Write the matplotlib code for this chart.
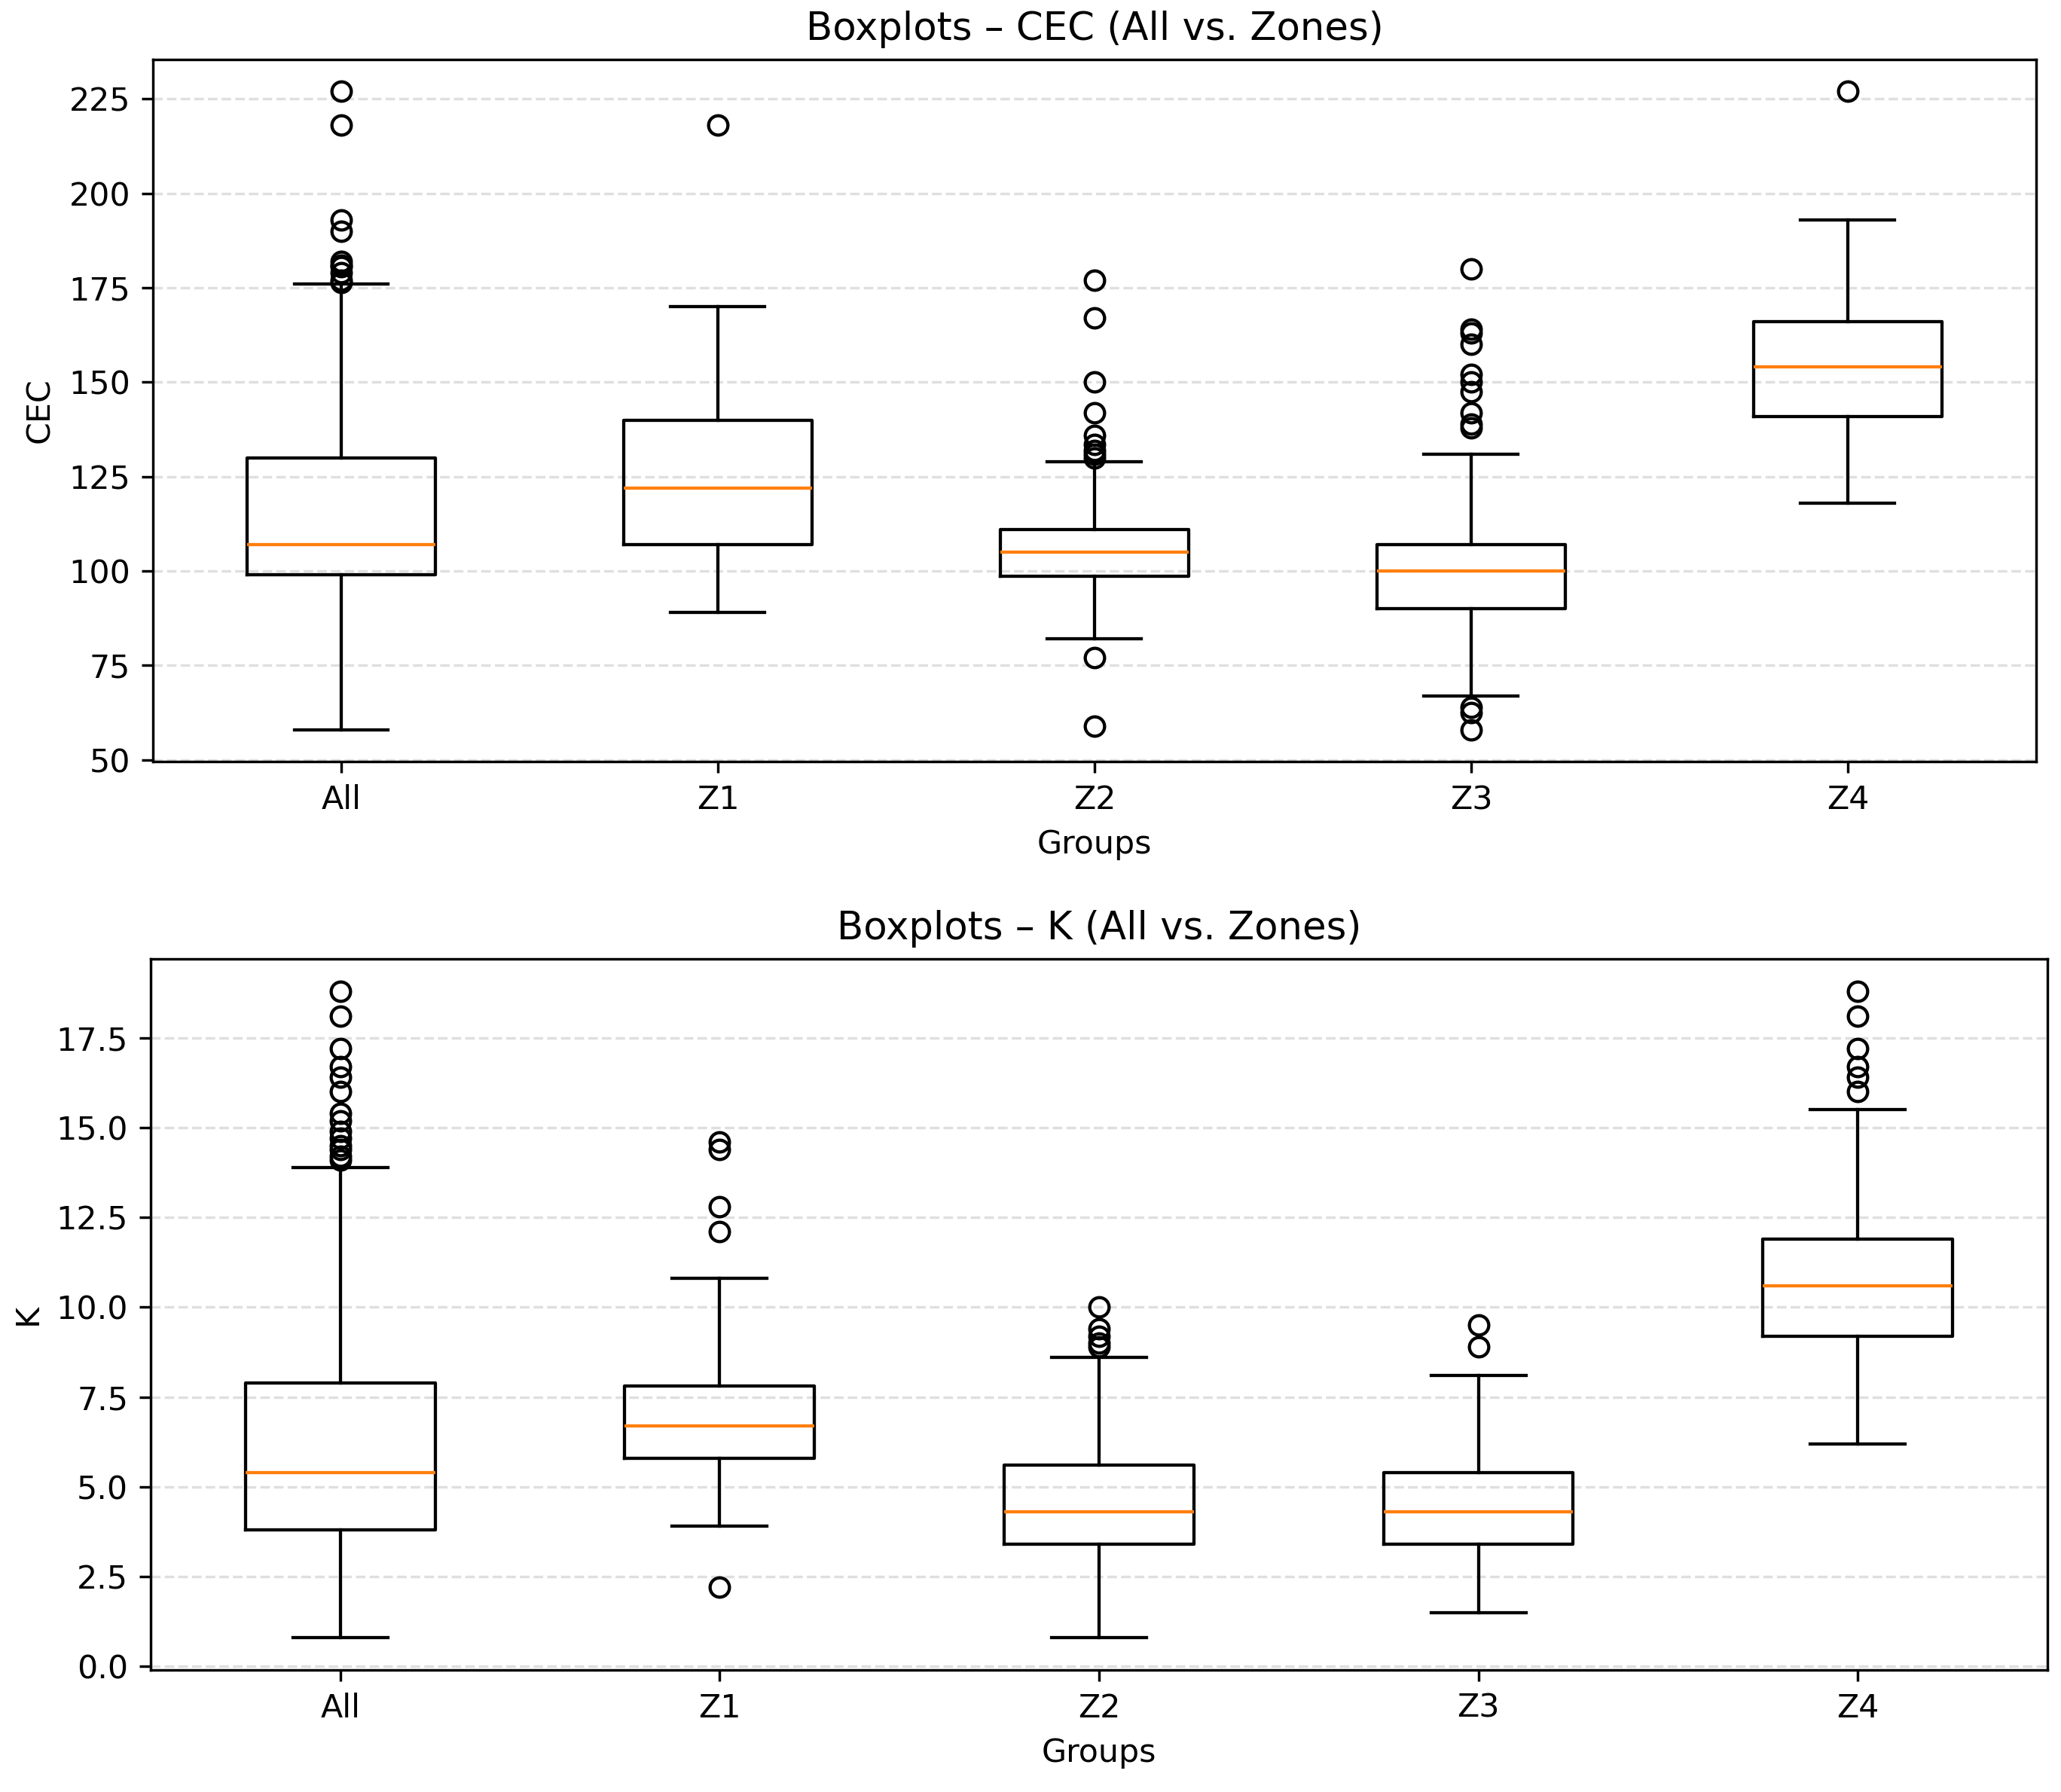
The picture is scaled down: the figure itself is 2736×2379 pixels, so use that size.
import matplotlib
matplotlib.use("Agg")
import matplotlib.pyplot as plt

# group labels
groups = ["All", "Z1", "Z2", "Z3", "Z4"]

# CEC box statistics
cec_med = [107, 122, 105, 100, 154]
cec_q1 = [99, 107, 98.7, 90, 141]
cec_q3 = [130, 140, 111, 107, 166]
cec_lo = [58, 89, 82, 67, 118]
cec_hi = [176, 170, 129, 131, 193]
cec_fliers = [
    [227, 218, 193, 190, 182, 181, 180.5, 179, 177, 176.5],
    [218],
    [177, 167, 150, 142, 136, 133.5, 132, 131, 130, 77, 59],
    [180, 164, 163, 160, 152, 150, 147.5, 142, 139, 138, 64, 62.5, 58],
    [227],
]

# K box statistics
k_med = [5.4, 6.7, 4.3, 4.3, 10.6]
k_q1 = [3.8, 5.8, 3.4, 3.4, 9.2]
k_q3 = [7.9, 7.8, 5.6, 5.4, 11.9]
k_lo = [0.8, 3.9, 0.8, 1.5, 6.2]
k_hi = [13.9, 10.8, 8.6, 8.1, 15.5]
k_fliers = [
    [18.8, 18.1, 17.2, 16.7, 16.4, 16.0, 15.4, 15.2, 14.9, 14.7, 14.5, 14.4, 14.2, 14.1],
    [14.6, 14.4, 12.8, 12.1, 2.2],
    [10.0, 9.4, 9.2, 9.0, 8.9],
    [9.5, 8.9],
    [18.8, 18.1, 17.2, 16.7, 16.4, 16.0],
]


def make_stats(labels, med, q1, q3, lo, hi, fliers):
    stats = []
    for i in range(len(labels)):
        stats.append({
            "label": labels[i],
            "med": med[i],
            "q1": q1[i],
            "q3": q3[i],
            "whislo": lo[i],
            "whishi": hi[i],
            "fliers": fliers[i],
        })
    return stats


DPI = 308
fig = plt.figure(figsize=(2736 / DPI, 2379 / DPI), dpi=DPI)
ax1 = fig.add_axes([0.0742, 0.575, 0.9137, 0.3918])
ax2 = fig.add_axes([0.0731, 0.0681, 0.9203, 0.3968])

panels = [
    (ax1, make_stats(groups, cec_med, cec_q1, cec_q3, cec_lo, cec_hi, cec_fliers), "CEC"),
    (ax2, make_stats(groups, k_med, k_q1, k_q3, k_lo, k_hi, k_fliers), "K"),
]

for ax, stats, name in panels:
    ax.bxp(stats)
    ax.set_title(f"Boxplots – {name} (All vs. Zones)")
    ax.set_xlabel("Groups")
    ax.set_ylabel(name)
    ax.grid(axis="y", linestyle="--", alpha=0.4)

fig.savefig("out.png", dpi=DPI)
